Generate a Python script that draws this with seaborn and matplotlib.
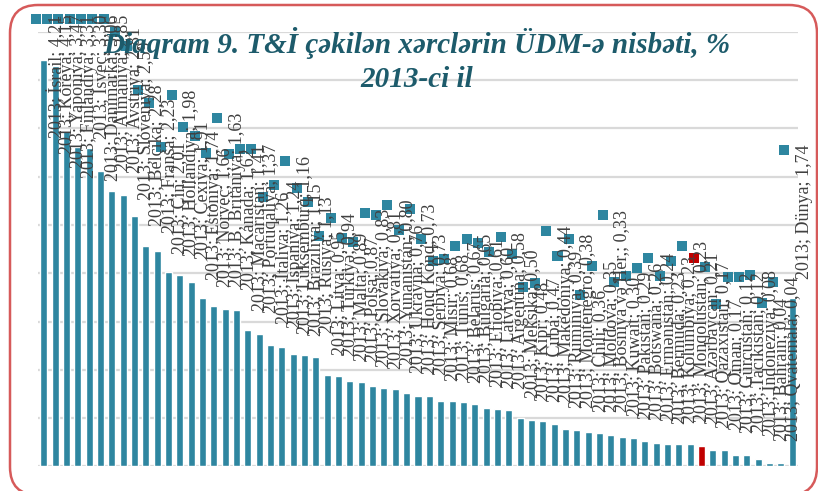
import matplotlib
matplotlib.use("Agg")

import matplotlib.pyplot as plt
import numpy as np
import pandas as pd
import seaborn as sns
from matplotlib.patches import FancyBboxPatch
from matplotlib.transforms import IdentityTransform

# R&D spending as % of GDP, 2013
countries = [
    "İsrail", "Koreya", "Yaponiya", "Finlandiya", "İsveç", "Danimarka", "Almaniya",
    "Avstriya", "Sloveniya", "Belçika", "Fransa", "Çin", "Hollandiya", "Çexiya",
    "Estoniya", "Norveç", "B. Britaniya", "Kanada", "Macarıstan", "Portuqaliya",
    "İtaliya", "İspaniya", "Lüksemburq", "Braziliya", "Rusiya", "Litva", "Türkiyə",
    "Malta", "Polşa", "Slovakiya", "Xorvatiya", "Yunanıstan", "Ukrayna", "Honq Konq",
    "Serbiya", "Misir", "Tunis", "Belarus", "Bulgaria", "Efiopiya", "Latviya",
    "Argentina", "Meksika", "Kipr", "Cuba", "Makedoniya", "Ruminiya", "Montenegro",
    "Chili", "Moldova", "Bosniya və Her.", "Kuwait", "Pakistan", "Botswana",
    "Ermənistan", "Bermuda", "Kolumbiya", "Monqolustan", "Azərbaycan", "Qazaxıstan",
    "Oman", "Gürcüstan", "Tacikistan", "İndoneziya", "Bahrain", "Qvatemala", "Dünya",
]
values = [
    4.21, 4.15, 3.47, 3.31, 3.30, 3.06, 2.85,
    2.81, 2.59, 2.28, 2.23, 2.01, 1.98, 1.91,
    1.74, 1.66, 1.63, 1.62, 1.41, 1.37,
    1.26, 1.24, 1.16, 1.15, 1.13, 0.95, 0.94,
    0.89, 0.87, 0.83, 0.81, 0.80, 0.76, 0.73,
    0.73, 0.68, 0.68, 0.67, 0.65, 0.61, 0.60,
    0.58, 0.50, 0.48, 0.47, 0.44, 0.39, 0.38,
    0.36, 0.35, 0.33, 0.30, 0.29, 0.26,
    0.24, 0.23, 0.23, 0.23, 0.21, 0.17,
    0.17, 0.12, 0.12, 0.08, 0.04, 0.04, 1.74,
]
# where each data label (key square) sits, in % units
label_heights = [
    4.63, 4.63, 4.63, 4.63, 4.63, 4.63, 4.63,
    4.50, 4.35, 3.90, 3.76, 3.31, 3.85, 3.52,
    3.42, 3.25, 3.61, 3.24, 3.29, 3.29,
    2.79, 2.91, 3.16, 2.88, 2.74, 2.39, 2.57,
    2.37, 2.32, 2.62, 2.60, 2.71, 2.45, 2.67,
    2.36, 2.13, 2.15, 2.28, 2.36, 2.31, 2.22,
    2.38, 2.20, 1.86, 1.90, 2.44, 2.18, 2.36,
    1.78, 2.08, 2.60, 1.91, 1.97, 2.06,
    2.16, 1.97, 2.13, 2.28, 2.16, 2.07,
    1.68, 1.96, 1.96, 1.98, 1.69, 1.91, 3.28,
]
highlight = "Azərbaycan"

TEAL = "#2e86a0"
RED = "#c00000"
TITLE = "#1d5b6b"

sns.set_theme(style="white")
plt.rcParams["font.family"] = ["Liberation Serif", "DejaVu Serif"]

df = pd.DataFrame({"country": countries, "value": values})
palette = {c: (RED if c == highlight else TEAL) for c in countries}

fig = plt.figure(figsize=(8.18, 4.91), dpi=100)
ax = fig.add_axes([0.0465, 0.05, 0.929, 0.885])

sns.barplot(data=df, x="country", y="value", hue="country", palette=palette,
            legend=False, width=0.62, saturation=1, ax=ax, zorder=2)

ax.set_xlim(-0.5, len(countries) - 0.5)
ax.set_ylim(0, 4.5)
ax.set_yticks(np.arange(0, 4.51, 0.5))
ax.yaxis.grid(True, color="#d9d9d9", lw=1.6, zorder=0)
ax.set_axisbelow(True)
ax.tick_params(left=False, bottom=False, labelleft=False, labelbottom=False)
ax.set_xlabel("")
ax.set_ylabel("")
sns.despine(ax=ax, left=True, bottom=True)

# Excel-style data labels with legend key squares
xs = np.arange(len(countries)) - 0.7
ax.scatter(xs, label_heights, marker="s", s=52, linewidths=0,
           c=[palette[c] for c in countries], clip_on=False, zorder=3)
for x, h, c, v in zip(xs, label_heights, countries, values):
    txt = f"2013; {c}; {v:.2f}".replace(".", ",")
    ax.annotate(txt, xy=(x, h), xytext=(20, 5), textcoords="offset pixels",
                rotation=90, ha="center", va="top", fontsize=13,
                color="#404040", annotation_clip=False, zorder=4)

fig.text(0.51, 0.892, "Diaqram 9. T&İ çəkilən xərclərin ÜDM-ə nisbəti, %",
         ha="center", va="baseline", fontsize=21, fontweight="bold",
         fontstyle="italic", color=TITLE)
fig.text(0.51, 0.823, "2013-ci il", ha="center", va="baseline", fontsize=21,
         fontweight="bold", fontstyle="italic", color=TITLE)

border = FancyBboxPatch((10, -4), 807, 490, boxstyle="round,pad=0,rounding_size=28",
                        transform=IdentityTransform(), fill=False,
                        edgecolor="#d65a5a", lw=1.8)
fig.patches.append(border)

fig.savefig("out.png", dpi=100)
